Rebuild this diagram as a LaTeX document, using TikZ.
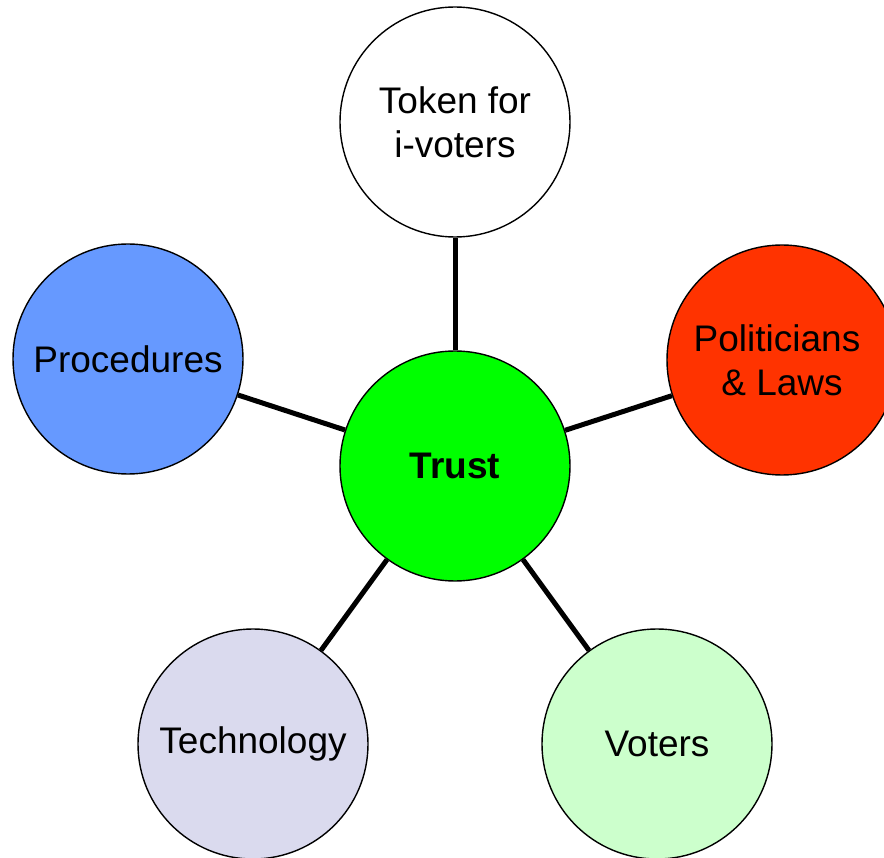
\documentclass[tikz,border=0pt]{standalone}
\usepackage{fontspec}
\setmainfont{Liberation Sans}
\definecolor{procblue}{RGB}{102,153,255}
\definecolor{polred}{RGB}{255,51,0}
\definecolor{trustgreen}{RGB}{0,255,0}
\definecolor{techlav}{RGB}{218,218,238}
\definecolor{votgreen}{RGB}{204,255,204}
\begin{document}
\begin{tikzpicture}[x=1pt,y=-1pt,
  bubble/.style={circle,draw=black,line width=1.4pt,minimum size=230pt,inner sep=0pt,
    align=center,font=\fontsize{37}{44}\selectfont},
  link/.style={line width=5pt,black}]
\useasboundingbox (0,0) rectangle (884,858);
\node[bubble,fill=white] (token) at (455,122) {Token for\\i-voters};
\node[bubble,fill=procblue] (proc) at (128,359) {Procedures};
\node[bubble,fill=polred] (pol) at (782,360) {\hspace*{-10pt}Politicians\\\& Laws};
\node[bubble,fill=trustgreen,font=\fontsize{37}{44}\selectfont\bfseries] (trust) at (455,466) {Trust};
\node[bubble,fill=techlav] (tech) at (253,744) {Technology};
\node[bubble,fill=votgreen] (vot) at (657,744) {Voters};
\draw[link] (trust) -- (token);
\draw[link] (trust) -- (proc);
\draw[link] (trust) -- (pol);
\draw[link] (trust) -- (tech);
\draw[link] (trust) -- (vot);
\end{tikzpicture}
\end{document}
